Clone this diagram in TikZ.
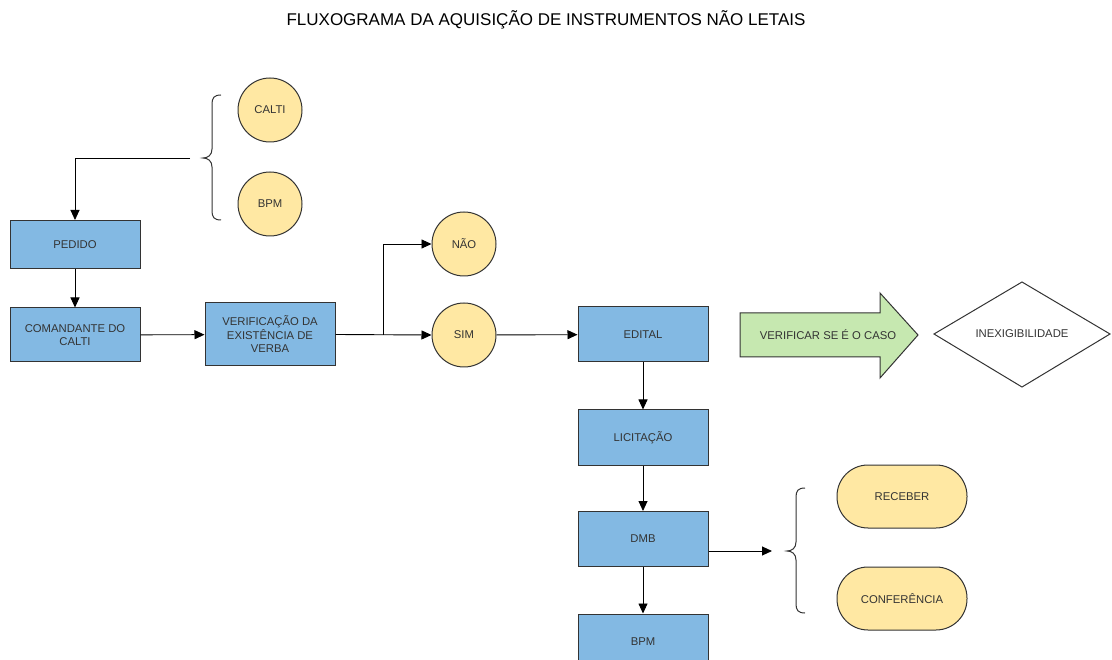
\documentclass[tikz,border=0pt]{standalone}
\usepackage{fontspec}
\setmainfont{Liberation Sans}
\usetikzlibrary{arrows.meta,shapes.geometric}
\definecolor{boxblue}{HTML}{83B9E3}
\definecolor{cyellow}{HTML}{FFE8A3}
\definecolor{agreen}{HTML}{C6E8B0}
\definecolor{txt}{HTML}{333333}
\definecolor{edge}{HTML}{333333}
\tikzset{
  proc/.style={draw=edge, line width=1pt, fill=boxblue, minimum width=130pt, minimum height=55pt, align=center, text=txt, font=\fontsize{11.3}{13.5}\selectfont, inner sep=2pt},
  term/.style={draw=edge, line width=1pt, fill=cyellow, circle, minimum size=64pt, text=txt, font=\fontsize{11.3}{13.5}\selectfont, inner sep=0pt},
  pill/.style={draw=edge, line width=1pt, fill=cyellow, rounded corners=31pt, minimum width=130pt, minimum height=63pt, text=txt, font=\fontsize{11.3}{13.5}\selectfont},
  lbl/.style={text=txt, font=\fontsize{11.3}{13.5}\selectfont, inner sep=0pt},
  conn/.style={draw=black, line width=0.9pt, -{Triangle[length=10pt,width=9pt]}},
  bracestyle/.style={draw=edge, line width=1pt}
}
\begin{document}
\begin{tikzpicture}[x=1pt,y=-1pt]
\useasboundingbox (0,0) rectangle (1112,660);
\clip (0,0) rectangle (1112,660);
\fill[white] (0,0) rectangle (1112,660);

\node[text=black, font=\fontsize{17}{20}\selectfont] (title) at (546,20) {FLUXOGRAMA DA AQUISIÇÃO DE INSTRUMENTOS NÃO LETAIS};

% circles top
\node[term] (calti) at (270,110) {CALTI};
\node[term] (bpmc) at (270,204) {BPM};

% brace 1
\draw[bracestyle] (221,95) .. controls (214,95) and (212,98) .. (212,104) -- (212,149) .. controls (212,155) and (208,158) .. (203,158) .. controls (208,158) and (212,161) .. (212,167) -- (212,211) .. controls (212,217) and (214,220) .. (221,220);
\coordinate (b1) at (190,158);

% boxes
\node[proc, minimum height=48pt] (pedido) at (75,244.5) {PEDIDO};
\node[proc, minimum height=54pt] (cmd) at (75,335) {COMANDANTE DO\\CALTI};
\node[proc, minimum height=63pt] (verif) at (270,334.5) {VERIFICAÇÃO DA\\EXISTÊNCIA DE\\VERBA};

\node[term] (nao) at (464,244) {NÃO};
\node[term] (sim) at (464,335) {SIM};
\coordinate (split) at (383,335);

\node[proc] (edital) at (643,334.5) {EDITAL};
\node[proc] (licit) at (643,437.5) {LICITAÇÃO};
\node[proc] (dmb) at (643,539) {DMB};
\node[proc] (bpmb) at (643,641.5) {BPM};

% green arrow
\draw[draw=edge, line width=1pt, fill=agreen] (740,313) -- (880,313) -- (880,293) -- (918,335) -- (880,378) -- (880,357) -- (740,357) -- cycle;
\node[lbl] (verca) at (828,335) {VERIFICAR SE É O CASO};

% diamond
\draw[draw=edge, line width=1pt, fill=white] (934,334) -- (1022,282) -- (1110,334) -- (1022,387) -- cycle;
\node[lbl] (inex) at (1022,334) {INEXIGIBILIDADE};

% brace 2
\draw[bracestyle] (805,488) .. controls (798,488) and (796,491) .. (796,497) -- (796,542) .. controls (796,548) and (792,551) .. (787,551) .. controls (792,551) and (796,554) .. (796,560) -- (796,604) .. controls (796,610) and (798,613) .. (805,613);
\coordinate (b2) at (772,551);

\node[pill] (receber) at (902,496.5) {RECEBER};
\node[pill] (conf) at (902,598.5) {CONFERÊNCIA};

% connectors
\draw[conn] (b1) -| (pedido.north);
\draw[conn] (pedido) -- (cmd);
\draw[conn] (cmd) -- (verif);
\draw[conn] (verif.east) -- (sim.west);
\draw[conn] (split) |- (nao.west);
\draw[conn] (sim) -- (edital);
\draw[conn] (edital) -- (licit);
\draw[conn] (licit) -- (dmb);
\draw[conn] (dmb) -- (bpmb);
\draw[conn] (dmb.east |- b2) -- (b2);
\end{tikzpicture}
\end{document}
